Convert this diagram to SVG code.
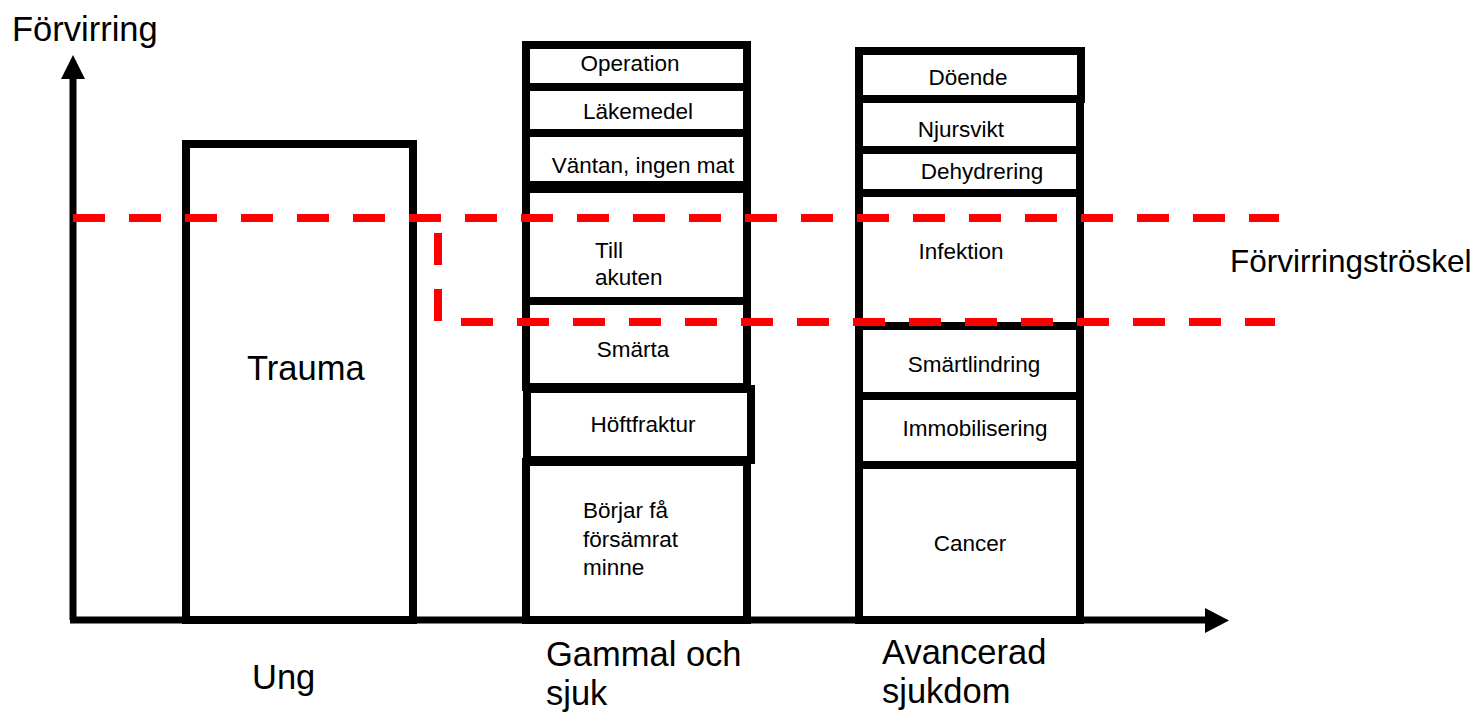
<svg xmlns="http://www.w3.org/2000/svg" width="1479" height="719" viewBox="0 0 1479 719">
<style>
.box{fill:#fff;stroke:#000;stroke-width:8}
.ax{fill:none;stroke:#000;stroke-width:7}
.thr{fill:none;stroke:#ff0000;stroke-width:8;stroke-dasharray:32 24}
.s{font-family:"Liberation Sans",Arial,sans-serif;font-size:22.5px;fill:#000}
.m{text-anchor:middle}
.L{font-family:"Liberation Sans",Arial,sans-serif;font-size:34.5px;fill:#000}
</style>
<rect width="1479" height="719" fill="#fff"/>
<g id="trauma">
<rect class="box" x="186" y="144" width="227" height="476"/>
<text class="L" x="247" y="380">Trauma</text>
</g>
<g id="gammal">
<rect class="box" x="526" y="462" width="221" height="158"/>
<rect class="box" x="527" y="389" width="224" height="71"/>
<rect class="box" x="526" y="301" width="221" height="86"/>
<rect class="box" x="526" y="189" width="221" height="112"/>
<rect class="box" x="526" y="133" width="221" height="52"/>
<rect class="box" x="526" y="87" width="221" height="46"/>
<rect class="box" x="526" y="45" width="221" height="42"/>
<text class="s m" x="630" y="71">Operation</text>
<text class="s m" x="638" y="119">Läkemedel</text>
<text class="s m" x="643" y="173">Väntan, ingen mat</text>
<text class="s" x="595" y="258">Till</text>
<text class="s" x="595" y="285">akuten</text>
<text class="s m" x="633" y="357">Smärta</text>
<text class="s m" x="643" y="432">Höftfraktur</text>
<text class="s" x="583" y="518">Börjar få</text>
<text class="s" x="583" y="547">försämrat</text>
<text class="s" x="583" y="575">minne</text>
</g>
<g id="avancerad">
<rect class="box" x="859" y="465" width="221" height="155"/>
<rect class="box" x="859" y="396" width="221" height="69"/>
<rect class="box" x="859" y="326" width="221" height="70"/>
<rect class="box" x="859" y="193" width="221" height="133"/>
<rect class="box" x="859" y="150" width="221" height="43"/>
<rect class="box" x="859" y="99" width="221" height="51"/>
<rect class="box" x="859" y="51" width="222" height="48"/>
<text class="s m" x="968" y="85">Döende</text>
<text class="s m" x="961" y="137">Njursvikt</text>
<text class="s m" x="982" y="179">Dehydrering</text>
<text class="s m" x="961" y="259">Infektion</text>
<text class="s m" x="974" y="372">Smärtlindring</text>
<text class="s m" x="975" y="436">Immobilisering</text>
<text class="s m" x="970" y="551">Cancer</text>
</g>
<g id="axes">
<path class="ax" d="M73 620 V76"/>
<path d="M61 79 L73 55 L85 79 Z" fill="#000"/>
<path class="ax" d="M70 620 H1207"/>
<path d="M1205 608 L1229 620.5 L1205 633 Z" fill="#000"/>
</g>
<g id="thresholds">
<path class="thr" d="M73 218 H1279"/>
<path class="thr" stroke-dashoffset="41" d="M438 218 V322 H1275"/>
</g>
<g id="labels">
<text class="L" x="12" y="41">Förvirring</text>
<text class="L" x="252" y="689">Ung</text>
<text class="L" x="546" y="666">Gammal och</text>
<text class="L" x="546" y="705">sjuk</text>
<text class="L" x="882" y="664">Avancerad</text>
<text class="L" x="882" y="703">sjukdom</text>
<text class="L" x="1230" y="272" style="font-size:31.5px">Förvirringströskel</text>
</g>
</svg>
